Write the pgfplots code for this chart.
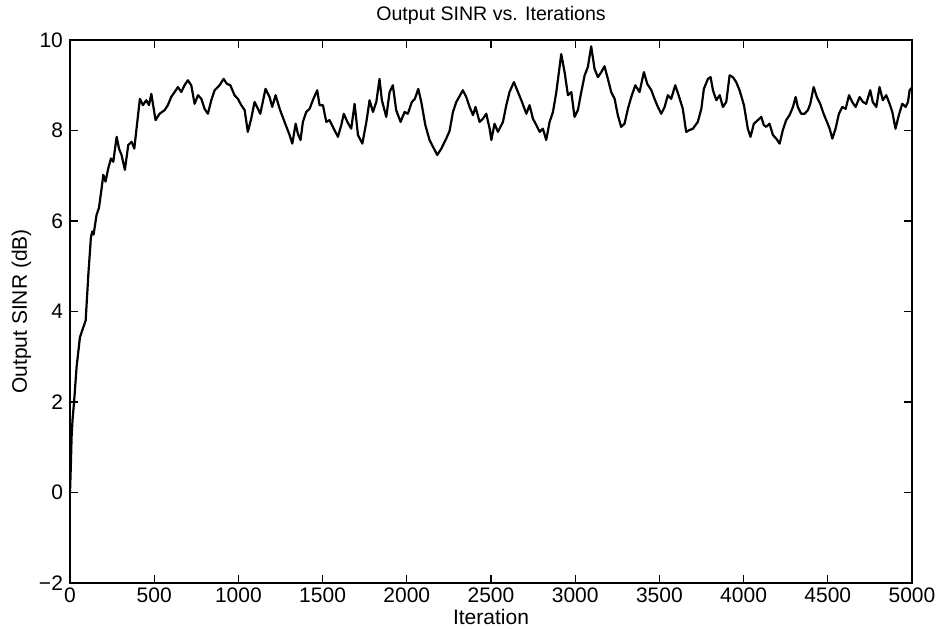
\documentclass[border=0pt]{standalone}
\usepackage{fontspec}
\setmainfont{Liberation Sans}
\usepackage{pgfplots}
\pgfplotsset{compat=1.18}
\begin{document}
\begin{tikzpicture}
\begin{axis}[
  at={(0,0)}, anchor=south west,
  scale only axis,
  width=421pt, height=271.5pt,
  xmin=0, xmax=5000, ymin=-2, ymax=10,
  xtick={0,500,...,5000}, ytick={-2,0,...,10},
  yticklabels={−2,0,2,4,6,8,10},
  tick align=inside, tick pos=both,
  major tick length=4pt,
  axis line style={line width=0.7pt},
  tick style={line width=0.6pt, black},
  /pgf/number format/assume math mode=true,
  /pgf/number format/set thousands separator={},
  ticklabel style={font=\fontsize{10.5}{12}\selectfont},
  xticklabel style={yshift=1pt},
  label style={font=\fontsize{10.5}{12}\selectfont},
  title style={font=\fontsize{9.8}{11}\selectfont, yshift=-2pt},
  title={Output SINR vs. Iterations},
  xlabel={Iteration}, ylabel={Output SINR (dB)},
  xlabel style={yshift=3.5pt},
  ylabel style={yshift=-3pt},
]
\addplot[black, line width=1.1pt, line join=round] table {
x y
0 0.0
5 0.6
9.5 1.23
15 1.6
25 2.04
39 2.77
59 3.43
79 3.65
93 3.80
109 4.82
124 5.63
132 5.77
140 5.70
158 6.14
172 6.29
188 6.73
198 7.02
211 6.87
227 7.16
243 7.38
257 7.31
277 7.86
291 7.60
306 7.46
326 7.13
346 7.68
366 7.75
382 7.60
395 8.04
415 8.70
433 8.56
453 8.67
469 8.56
483 8.81
508 8.23
532 8.37
562 8.45
581 8.56
601 8.74
621 8.85
641 8.96
661 8.85
680 9.00
700 9.11
720 9.00
740 8.59
760 8.78
780 8.70
799 8.48
819 8.37
839 8.67
859 8.89
888 9.00
912 9.14
932 9.03
952 9.00
977 8.78
997 8.70
1017 8.56
1037 8.45
1056 7.97
1076 8.26
1096 8.63
1116 8.48
1130 8.37
1161 8.92
1185 8.74
1201 8.52
1221 8.78
1245 8.48
1274 8.19
1304 7.90
1320 7.71
1340 8.15
1353 7.93
1369 7.79
1383 8.19
1403 8.41
1423 8.48
1442 8.67
1468 8.89
1482 8.56
1502 8.56
1522 8.19
1541 8.23
1561 8.08
1591 7.86
1611 8.12
1626 8.37
1647 8.19
1670 8.04
1690 8.59
1710 7.90
1736 7.71
1760 8.19
1779 8.67
1799 8.41
1819 8.63
1838 9.14
1852 8.67
1878 8.30
1898 8.85
1917 9.00
1937 8.45
1963 8.19
1987 8.41
2006 8.37
2030 8.63
2048 8.70
2068 8.92
2086 8.63
2110 8.12
2135 7.79
2161 7.60
2181 7.46
2205 7.60
2234 7.82
2254 7.99
2274 8.41
2294 8.63
2333 8.89
2353 8.74
2373 8.52
2393 8.34
2408 8.52
2432 8.19
2452 8.26
2472 8.37
2492 8.04
2502 7.79
2521 8.15
2541 7.97
2571 8.19
2591 8.56
2610 8.85
2636 9.07
2660 8.85
2680 8.67
2710 8.37
2729 8.56
2749 8.26
2769 8.12
2789 7.97
2808 8.04
2828 7.79
2848 8.19
2868 8.41
2888 8.85
2917 9.69
2937 9.29
2957 8.78
2977 8.85
2996 8.30
3016 8.45
3036 8.85
3056 9.22
3075 9.40
3095 9.86
3115 9.36
3135 9.18
3155 9.29
3174 9.42
3194 9.14
3214 8.85
3234 8.70
3253 8.34
3273 8.08
3293 8.15
3313 8.48
3333 8.74
3357 9.00
3382 8.85
3408 9.29
3428 9.03
3452 8.89
3471 8.70
3491 8.52
3511 8.37
3531 8.52
3550 8.78
3570 8.70
3594 9.00
3614 8.78
3639 8.48
3659 7.97
3679 8.01
3699 8.04
3728 8.19
3749 8.48
3764 8.92
3788 9.14
3804 9.18
3818 8.89
3838 8.67
3858 8.78
3877 8.52
3897 8.63
3917 9.22
3936 9.18
3956 9.07
3976 8.89
4002 8.56
4025 8.04
4041 7.86
4061 8.15
4085 8.23
4105 8.30
4120 8.12
4134 8.08
4154 8.15
4174 7.90
4194 7.82
4214 7.71
4233 8.01
4253 8.23
4273 8.34
4293 8.52
4309 8.74
4322 8.52
4342 8.37
4362 8.37
4382 8.45
4396 8.59
4416 8.96
4435 8.74
4455 8.59
4475 8.37
4495 8.19
4511 8.04
4527 7.82
4546 8.04
4566 8.37
4586 8.52
4606 8.48
4626 8.78
4645 8.63
4665 8.52
4689 8.74
4709 8.63
4728 8.59
4752 8.89
4767 8.63
4788 8.52
4807 8.96
4827 8.67
4847 8.78
4867 8.59
4883 8.41
4902 8.04
4922 8.34
4942 8.59
4962 8.52
4976 8.63
4986 8.89
5000 8.95
};
\end{axis}
\pgfresetboundingbox
\path[use as bounding box] (-35pt,-22.5pt) rectangle (436pt,291.5pt);
\end{tikzpicture}
\end{document}
